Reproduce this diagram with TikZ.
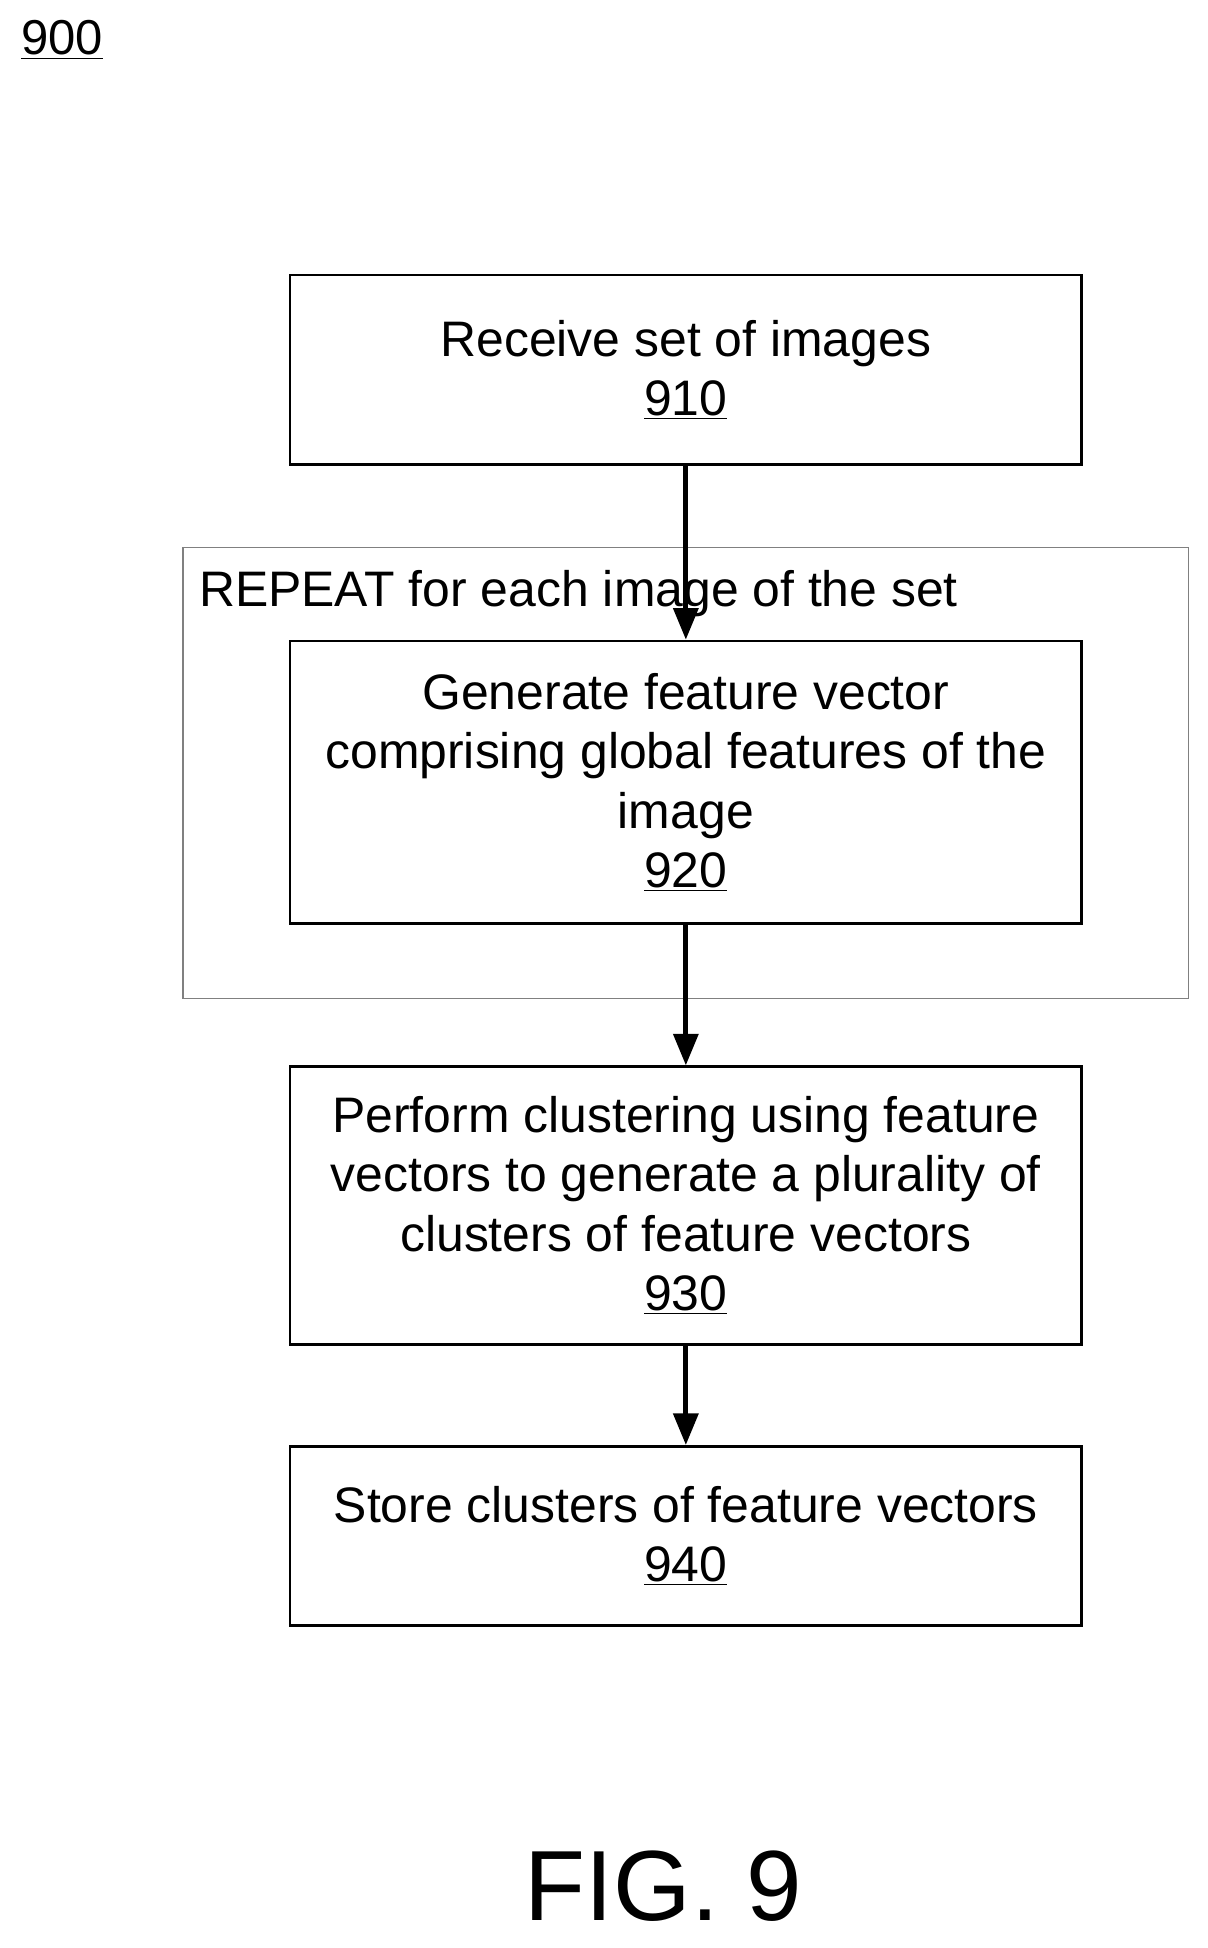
\documentclass[tikz,border=0pt]{standalone}
\usepackage{fontspec}
\setmainfont{Liberation Sans}
\usetikzlibrary{arrows.meta}
\tikzset{
  stepbox/.style={draw,line width=1.6pt,align=center,font=\fontsize{28.5}{34}\selectfont},
  flow/.style={-{Triangle[length=18pt,width=14pt]},line width=2.8pt},
}
\begin{document}
\begin{tikzpicture}[x=0.025cm,y=-0.025cm]
		\useasboundingbox[fill=white] (0,0) rectangle (970,1565);
		\node[anchor=center,font=\fontsize{28}{32}\selectfont] (fignum) at (50,32) {\underline{900}};
		
		% loop frame
		\draw[gray,line width=0.6pt] (147,440) rectangle (955,802);
		\node[anchor=west,font=\fontsize{28.5}{32}\selectfont] (repeat) at (155,477) {REPEAT for each image of the set};
		
		\node[stepbox,minimum width=636*0.025cm,minimum height=152*0.025cm] (s910) at (551,297) {Receive set of images\\\underline{910}};
		\node[stepbox,minimum width=636*0.025cm,minimum height=227*0.025cm] (s920) at (551,628.5) {Generate feature vector\\comprising global features of the\\image\\\underline{920}};
		\node[stepbox,minimum width=636*0.025cm,minimum height=223*0.025cm] (s930) at (551,968.5) {Perform clustering using feature\\vectors to generate a plurality of\\clusters of feature vectors\\\underline{930}};
		\node[stepbox,minimum width=636*0.025cm,minimum height=144*0.025cm] (s940) at (551,1234) {Store clusters of feature vectors\\\underline{940}};
		
		\draw[flow] (s910) -- (s920);
		\draw[flow] (s920) -- (s930);
		\draw[flow] (s930) -- (s940);
		
		\node[font=\fontsize{57}{64}\selectfont] (fig) at (533,1515) {FIG. 9};
	\end{tikzpicture}
\end{document}
